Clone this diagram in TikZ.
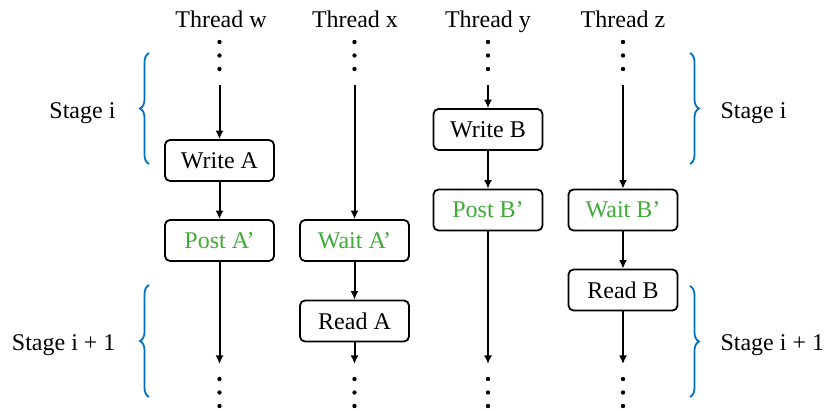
\documentclass[tikz,border=0pt]{standalone}
\usepackage{fontspec}
\setmainfont{Liberation Serif}
\usepackage{tikz}
\usetikzlibrary{arrows.meta,decorations.pathreplacing}
\definecolor{syncgreen}{RGB}{64,170,57}
\definecolor{braceblue}{RGB}{0,112,192}

\begin{document}
\begin{tikzpicture}[x=1pt, y=-1pt, font=\fontsize{24}{27}\selectfont,
		opbox/.style={draw, rounded corners=5pt, line width=1.8pt, minimum width=109pt, minimum height=41pt, inner sep=0pt},
		syncbox/.style={opbox, text=syncgreen},
		dotnode/.style={circle, fill, inner sep=0pt, minimum size=4.4pt},
		flow/.style={line width=2pt, -{Latex[length=8.5pt,width=8pt]}},
		stagebrace/.style={draw=braceblue, line width=1.8pt, decorate, decoration={brace, amplitude=9pt}}]
		\useasboundingbox (0,0) rectangle (828,411);

		% thread titles
		\node[anchor=base]	(tw) at (221,28)	{Thread w};
		\node[anchor=base]	(tx) at (355,28)	{Thread x};
		\node[anchor=base]	(ty) at (488,28)	{Thread y};
		\node[anchor=base]	(tz) at (623,28)	{Thread z};

		% operations
		\node[opbox]	(writeA) at (219.5,160.5)	{Write A};
		\node[syncbox]	(postA) at (219.5,240.5)	{Post A’};
		\node[syncbox]	(waitA) at (354.5,240.5)	{Wait A’};
		\node[opbox]	(readA) at (354.5,321)	{Read A};
		\node[opbox]	(writeB) at (488,129.5)	{Write B};
		\node[syncbox]	(postB) at (488,210)	{Post B’};
		\node[syncbox]	(waitB) at (623,210)	{Wait B’};
		\node[opbox]	(readB) at (623,290)	{Read B};

		% dots above and below each thread
		\foreach \t/\x in {w/219.5, x/354.5, y/488, z/623} {
			\node[dotnode]	(\t-d1) at (\x,42)	{};
			\node[dotnode]	(\t-d2) at (\x,55.5)	{};
			\node[dotnode]	(\t-d3) at (\x,69)	{};
			\node[dotnode]	(\t-d4) at (\x,379)	{};
			\node[dotnode]	(\t-d5) at (\x,392.5)	{};
			\node[dotnode]	(\t-d6) at (\x,406)	{};
			\coordinate	(\t-top) at (\x,85);
			\coordinate	(\t-bot) at (\x,364);
		}

		% thread w
		\draw[flow] (w-top) -- (writeA);
		\draw[flow] (writeA) -- (postA);
		\draw[flow] (postA) -- (w-bot);
		% thread x
		\draw[flow] (x-top) -- (waitA);
		\draw[flow] (waitA) -- (readA);
		\draw[flow] (readA) -- (x-bot);
		% thread y
		\draw[flow] (y-top) -- (writeB);
		\draw[flow] (writeB) -- (postB);
		\draw[flow] (postB) -- (y-bot);
		% thread z
		\draw[flow] (z-top) -- (waitB);
		\draw[flow] (waitB) -- (readB);
		\draw[flow] (readB) -- (z-bot);

		% stages
		\coordinate	(lb1) at (149,164);
		\coordinate	(lt1) at (149,53);
		\coordinate	(lb2) at (149,397);
		\coordinate	(lt2) at (149,285);
		\coordinate	(rt1) at (690,53);
		\coordinate	(rb1) at (690,164);
		\coordinate	(rt2) at (690,286);
		\coordinate	(rb2) at (690,397);
		\draw[stagebrace] (lb1) -- (lt1);
		\draw[stagebrace] (lb2) -- (lt2);
		\draw[stagebrace] (rt1) -- (rb1);
		\draw[stagebrace] (rt2) -- (rb2);
		\node[anchor=east]	(stageL1) at (119,113)	{Stage i};
		\node[anchor=east]	(stageL2) at (119,345)	{Stage i + 1};
		\node[anchor=west]	(stageR1) at (717,113)	{Stage i};
		\node[anchor=west]	(stageR2) at (717,345)	{Stage i + 1};
\end{tikzpicture}
\end{document}
